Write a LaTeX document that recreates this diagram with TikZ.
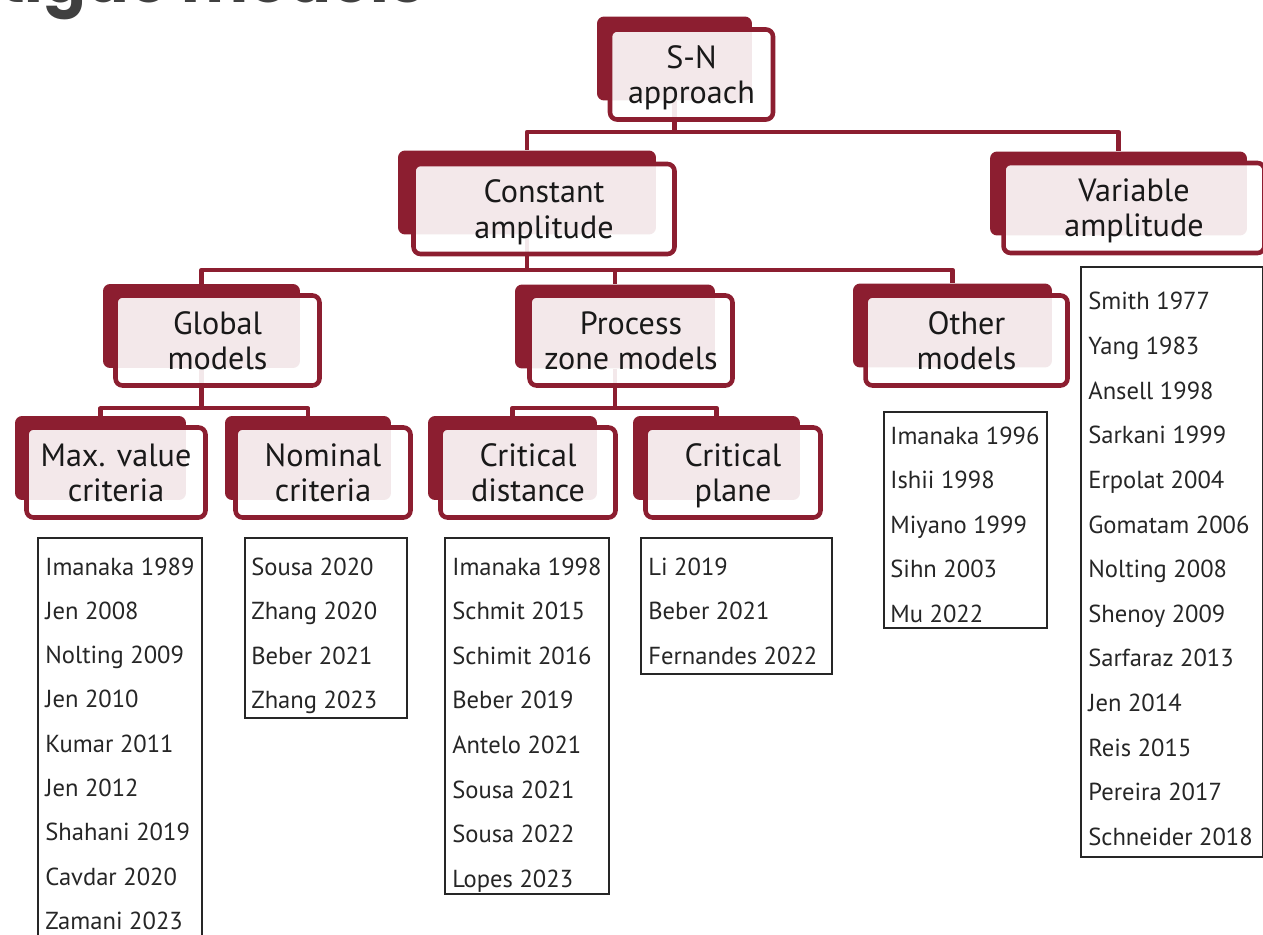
\documentclass[tikz,border=0pt]{standalone}
\usepackage{fontspec}
\setmainfont{PT Sans}
\newfontfamily\titlefont{Poppins}
\usetikzlibrary{positioning, calc}
\definecolor{maroon}{RGB}{140,30,48}

\begin{document}
\begin{tikzpicture}[x=0.02cm, y=-0.02cm,
  backbox/.style={rectangle, rounded corners=4pt, fill=maroon,
    minimum height=1.68cm, inner sep=0pt},
  frontbox/.style={rectangle, rounded corners=4pt, draw=maroon, line width=2.6pt,
    fill=white, fill opacity=0.9, text opacity=1, minimum height=1.8cm,
    align=center, inner sep=0pt, text depth=0pt, text=black!90,
    font=\fontsize{18.3}{20}\selectfont},
  link/.style={draw=maroon, line width=2.3pt, line join=round},
  listbox/.style={rectangle, draw=black!85, line width=1.1pt, fill=white,
    inner sep=0pt, anchor=north west},
  entry/.style={anchor=base west, inner sep=0pt, text=black!85,
    font=\fontsize{14}{16}\selectfont}
]
\useasboundingbox (0,0) rectangle (1263,935);

% title, cut by the page edge
\node[anchor=base east, inner sep=0pt, text=black!75,
  font=\titlefont\bfseries\fontsize{36}{40}\selectfont] (title) at (425,3) {Fatigue models};

% back shapes
\node[backbox, minimum width=3.1cm]  (sn-b)    at (674.5,58.5) {};
\node[backbox, minimum width=5.16cm] (cst-b)   at (527,192.5) {};
\node[backbox, minimum width=5.14cm] (var-b)   at (1118.5,193.5) {};
\node[backbox, minimum width=3.94cm] (glob-b)  at (201.5,326) {};
\node[backbox, minimum width=4.0cm]  (proc-b)  at (615,326.5) {};
\node[backbox, minimum width=3.98cm] (oth-b)   at (952.5,325.5) {};
\node[backbox, minimum width=3.42cm] (max-b)   at (100.5,458) {};
\node[backbox, minimum width=3.32cm] (nom-b)   at (308,458) {};
\node[backbox, minimum width=3.38cm] (dist-b)  at (512.5,458) {};
\node[backbox, minimum width=3.34cm] (plane-b) at (716.5,458) {};

% connectors
\coordinate (j-sn)   at ($(sn-b.south)+(0,31)$);
\coordinate (j-cst)  at ($(cst-b.south)+(0,35)$);
\coordinate (j-glob) at ($(glob-b.south)+(0,40)$);
\coordinate (j-proc) at ($(proc-b.south)+(0,39)$);
\draw[link] (sn-b.south) -- (j-sn) -| (cst-b.north);
\draw[link] (j-sn) -| (var-b.north);
\draw[link] (cst-b.south) -- (j-cst) -| (glob-b.north);
\draw[link] (j-cst) -| (proc-b.north);
\draw[link] (j-cst) -| (oth-b.north);
\draw[link] (glob-b.south) -- (j-glob) -| (max-b.north);
\draw[link] (j-glob) -| (nom-b.north);
\draw[link] (proc-b.south) -- (j-proc) -| (dist-b.north);
\draw[link] (j-proc) -| (plane-b.north);

% front shapes
\node[frontbox, minimum width=3.26cm] (sn)    at ($(sn-b)+(17,16)$)      {S-N\\approach};
\node[frontbox, minimum width=5.22cm] (cst)   at ($(cst-b)+(17,16.5)$)   {Constant\\amplitude};
\node[frontbox, minimum width=5.22cm] (var)   at ($(var-b)+(15.5,14.5)$) {Variable\\amplitude};
\node[frontbox, minimum width=4.08cm] (glob)  at ($(glob-b)+(16,14.5)$)  {Global\\models};
\node[frontbox, minimum width=4.06cm] (proc)  at ($(proc-b)+(16,14)$)    {Process\\zone models};
\node[frontbox, minimum width=4.04cm] (oth)   at ($(oth-b)+(14,15)$)     {Other\\models};
\node[frontbox, minimum width=3.58cm] (max)   at ($(max-b)+(15.5,14.5)$) {Max. value\\criteria};
\node[frontbox, minimum width=3.5cm]  (nom)   at ($(nom-b)+(15,14.5)$)   {Nominal\\criteria};
\node[frontbox, minimum width=3.5cm]  (dist)  at ($(dist-b)+(15.5,14.5)$) {Critical\\distance};
\node[frontbox, minimum width=3.5cm]  (plane) at ($(plane-b)+(16.5,14.5)$) {Critical\\plane};

% reference lists
\node[listbox, minimum width=3.28cm, minimum height=8.2cm]  (maxl)   at (37,537) {};
\node[listbox, minimum width=3.24cm, minimum height=3.6cm]  (noml)   at (244,537) {};
\node[listbox, minimum width=3.28cm, minimum height=7.12cm] (distl)  at (444,537) {};
\node[listbox, minimum width=3.82cm, minimum height=2.72cm] (planel) at (640,537) {};
\node[listbox, minimum width=3.26cm, minimum height=4.32cm] (othl)   at (883,411) {};
\node[listbox, minimum width=3.64cm, minimum height=11.8cm] (varl)   at (1080,266) {};

\foreach \ref [count=\i from 0] in {Imanaka 1989, Jen 2008, Nolting 2009, Jen 2010,
    Kumar 2011, Jen 2012, Shahani 2019, Cavdar 2020, Zamani 2023}
  \node[entry] (maxl-\i) at ($(maxl.north west)+(8,{38+44.3*\i})$) {\ref};
\foreach \ref [count=\i from 0] in {Sousa 2020, Zhang 2020, Beber 2021, Zhang 2023}
  \node[entry] (noml-\i) at ($(noml.north west)+(7,{38+44.6*\i})$) {\ref};
\foreach \ref [count=\i from 0] in {Imanaka 1998, Schmit 2015, Schimit 2016, Beber 2019,
    Antelo 2021, Sousa 2021, Sousa 2022, Lopes 2023}
  \node[entry] (distl-\i) at ($(distl.north west)+(8,{38+44.6*\i})$) {\ref};
\foreach \ref [count=\i from 0] in {Li 2019, Beber 2021, Fernandes 2022}
  \node[entry] (planel-\i) at ($(planel.north west)+(8,{38+44.6*\i})$) {\ref};
\foreach \ref [count=\i from 0] in {Imanaka 1996, Ishii 1998, Miyano 1999, Sihn 2003, Mu 2022}
  \node[entry] (othl-\i) at ($(othl.north west)+(7,{33+44.6*\i})$) {\ref};
\foreach \ref [count=\i from 0] in {Smith 1977, Yang 1983, Ansell 1998, Sarkani 1999,
    Erpolat 2004, Gomatam 2006, Nolting 2008, Shenoy 2009, Sarfaraz 2013, Jen 2014,
    Reis 2015, Pereira 2017, Schneider 2018}
  \node[entry] (varl-\i) at ($(varl.north west)+(8,{44+44.6*\i})$) {\ref};

\end{tikzpicture}
\end{document}
